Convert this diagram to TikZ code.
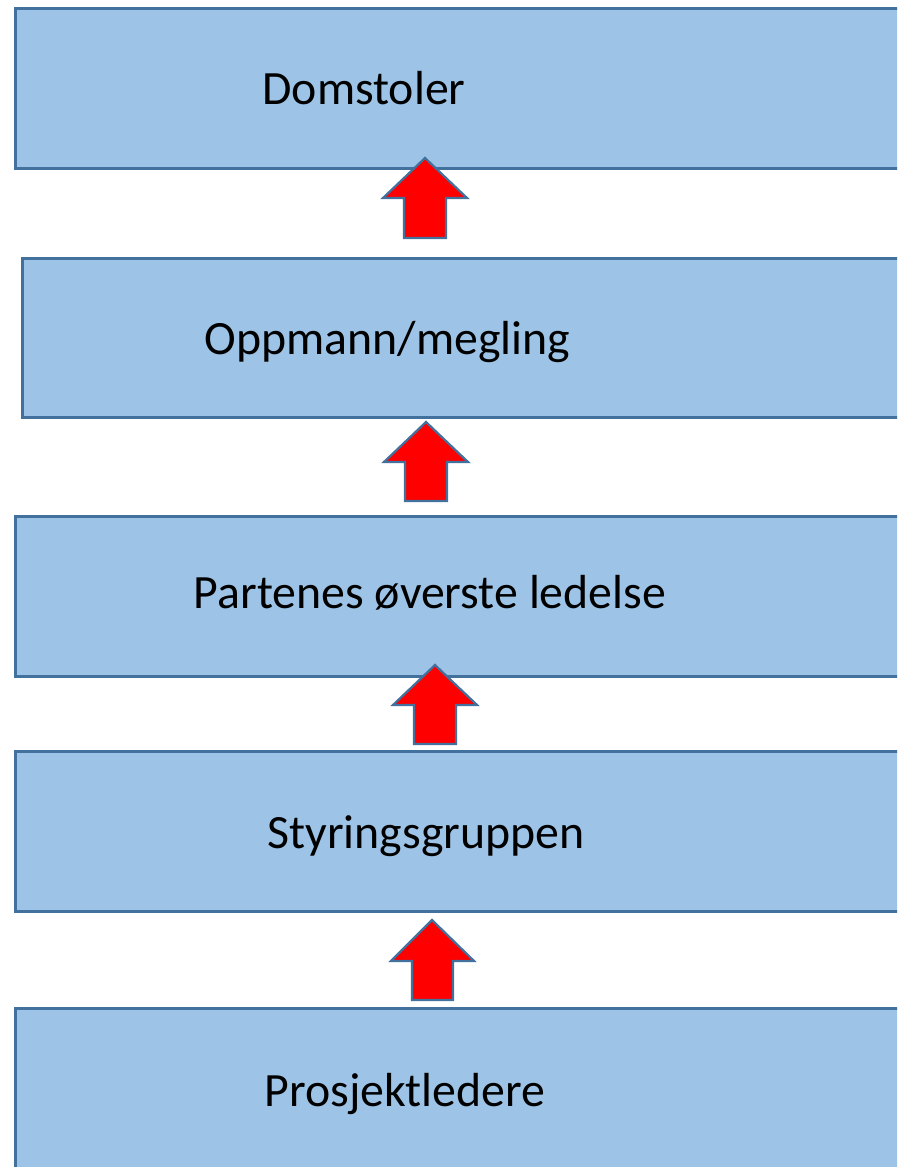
\documentclass[tikz,border=0pt]{standalone}
\usepackage{fontspec}
\setmainfont{Carlito}
\definecolor{boxfill}{HTML}{9DC3E6}
\definecolor{boxline}{HTML}{41719C}
\definecolor{arrred}{HTML}{FF0000}
\begin{document}
\begin{tikzpicture}[x=1pt,y=-1pt,
  levelbox/.style={draw=boxline,fill=boxfill,line width=3pt},
  uparrow/.style={draw=boxline,fill=arrred,line width=2.2pt,line join=miter},
  lbl/.style={anchor=base,inner sep=0pt,font=\fontsize{47.8}{52}\selectfont}]
\useasboundingbox (0,0) rectangle (897,1167);
\clip (0,0) rectangle (897,1167);
% boxes
\draw[levelbox] (15,8) rectangle (910,168);
\draw[levelbox] (22,258) rectangle (910,417);
\draw[levelbox] (15,516) rectangle (910,676);
\draw[levelbox] (15,751) rectangle (910,911);
\draw[levelbox] (15,1008) rectangle (910,1190);
% labels
\node[lbl] (t1) at (364,104) {Domstoler};
\node[lbl] (t2) at (387.5,354) {Oppmann/megling};
\node[lbl] (t3) at (430,608) {Partenes øverste ledelse};
\node[lbl] (t4) at (426,848) {Styringsgruppen};
\node[lbl] (t5) at (405,1106) {Prosjektledere};
% arrows
\draw[uparrow] (425,158) -- (467,198) -- (446,198) -- (446,238) -- (404,238) -- (404,198) -- (383,198) -- cycle;
\draw[uparrow] (426,422) -- (468,462) -- (447,462) -- (447,501) -- (405,501) -- (405,462) -- (384,462) -- cycle;
\draw[uparrow] (435,665) -- (477,705) -- (456,705) -- (456,744) -- (414,744) -- (414,705) -- (393,705) -- cycle;
\draw[uparrow] (432,920) -- (474,961) -- (453,961) -- (453,1000) -- (412,1000) -- (412,961) -- (391,961) -- cycle;
\end{tikzpicture}
\end{document}
